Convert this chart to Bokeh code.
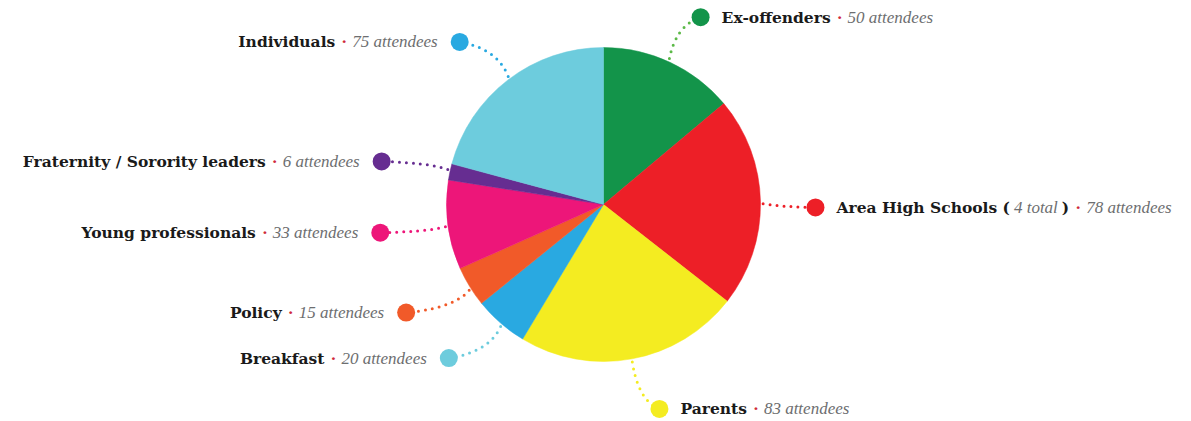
import math
import subprocess
from bokeh.plotting import figure
from bokeh.models import Range1d, ColumnDataSource
from bokeh.core.properties import value
from bokeh.embed import file_html
from bokeh.resources import INLINE

# ---------------- data ----------------
categories = ["Ex-offenders", "Area High Schools", "Parents", "Breakfast", "Policy",
              "Young professionals", "Fraternity / Sorority leaders", "Individuals"]
attendees = [50, 78, 83, 20, 15, 33, 6, 75]
notes = ["", "4 total", "", "", "", "", "", ""]

# ---------------- styles / layout ----------------
slice_colors = ["#13944A", "#ED1F27", "#F4EC21", "#29A9E1", "#F15A29", "#ED1679", "#662D91", "#6DCCDD"]
marker_colors = ["#13944A", "#ED1F27", "#F4EC21", "#6DCCDD", "#F15A29", "#ED1679", "#662D91", "#29A9E1"]
leader_colors = ["#5BB947", "#ED1F27", "#F4EC21", "#6DCCDD", "#F15A29", "#ED1679", "#662D91", "#29A9E1"]
label_nudge = [2.4, 1.8, -4.8, 4.2, 2.8, 0.3, -1.0, -4.0]      # degrees
label_radius = [211, 212, 212, 218, 225, 225, 226, 217]        # px
label_side = ["right", "right", "right", "left", "left", "left", "left", "left"]

W, H = 1191, 421
CX, CY, R = 603, H - 204, 157
FONTS = {"bold": ("DejaVu Serif", 15.5), "italic": ("Liberation Serif", 17)}
NAME_COLOR = "#1a1a1a"
COUNT_COLOR = "#6d6e70"
DOT_COLOR = "#d02a3a"

_paths = {}


def measure(s, style):
    fam, size = FONTS[style]
    try:
        from PIL import ImageFont
        if style not in _paths:
            pat = fam + {"bold": ":bold", "italic": ":italic"}[style]
            _paths[style] = subprocess.run(["fc-match", "-f", "%{file}", pat], capture_output=True,
                                           text=True, timeout=5).stdout.strip()
        return ImageFont.truetype(_paths[style], size).getlength(s)
    except Exception:
        return len(s) * size * {"bold": 0.66, "italic": 0.44}[style]


p = figure(width=W, height=H, x_range=Range1d(0, W), y_range=Range1d(0, H),
           output_backend="svg", toolbar_location=None, min_border=0,
           x_axis_location=None, y_axis_location=None)
p.grid.visible = False
p.outline_line_color = None

# wedges
total = sum(attendees)
cum = 0.0
starts, ends, mids = [], [], []
for v in attendees:
    a0 = cum / total * 360.0
    a1 = (cum + v) / total * 360.0
    cum += v
    starts.append(math.radians(90 - a1))
    ends.append(math.radians(90 - a0))
    mids.append((a0 + a1) / 2)

# leaders & markers
mx, my = [], []
lx0, ly0, lx1, ly1, lcx, lcy = [], [], [], [], [], []
for i, m in enumerate(mids):
    la = math.radians(m + label_nudge[i])
    px = CX + label_radius[i] * math.sin(la)
    py = CY + label_radius[i] * math.cos(la)
    mx.append(px)
    my.append(py)
    sa = math.radians(m)
    x0 = CX + (R - 4) * math.sin(sa)
    y0 = CY + (R - 4) * math.cos(sa)
    lx0.append(x0); ly0.append(y0); lx1.append(px); ly1.append(py)
    lcx.append(0.65 * x0 + 0.35 * (x0 + px) / 2)
    lcy.append(0.65 * py + 0.35 * (y0 + py) / 2)

for i in range(len(categories)):
    p.quadratic(x0=[lx0[i]], y0=[ly0[i]], x1=[lx1[i]], y1=[ly1[i]], cx=[lcx[i]], cy=[lcy[i]],
                line_color=leader_colors[i], line_width=3, line_dash="0 7", line_cap="round")

p.wedge(x=CX, y=CY, radius=R, start_angle=starts, end_angle=ends, direction="anticlock",
        fill_color=slice_colors, line_color=slice_colors, line_width=0.5)

p.scatter(x=mx, y=my, size=18, marker="circle", fill_color=marker_colors, line_color=None)

# labels
bold = dict(x=[], y=[], text=[])
ital = dict(x=[], y=[], text=[])
dots = dict(x=[], y=[], text=[])
for i, name in enumerate(categories):
    segs = []
    if notes[i]:
        segs.append((name + " (", "bold", 0))
        segs.append((notes[i], "italic", 4))
        segs.append((")", "bold", 4))
    else:
        segs.append((name, "bold", 0))
    segs.append(("·", "dot", 9))
    segs.append((f"{attendees[i]} attendees", "italic", 8))
    widths = [0 if st == "dot" else measure(t, st) for t, st, _ in segs]
    total_w = sum(widths) + sum(g for _, _, g in segs)
    if label_side[i] == "right":
        x = mx[i] + 21
    else:
        x = mx[i] - 22 - total_w
    y = my[i]
    for (t, st, gap), w in zip(segs, widths):
        x += gap
        tgt = {"bold": bold, "italic": ital, "dot": dots}[st]
        tgt["x"].append(x)
        tgt["y"].append(y)
        tgt["text"].append(t)
        x += w

p.text(x="x", y="y", text="text", source=ColumnDataSource(bold), text_align="left",
       text_baseline="middle", text_color=NAME_COLOR, text_font_style="bold",
       text_font=value(FONTS["bold"][0]), text_font_size=f"{FONTS['bold'][1]}px")
p.text(x="x", y="y", text="text", source=ColumnDataSource(ital), text_align="left",
       text_baseline="middle", text_color=COUNT_COLOR, text_font_style="italic",
       text_font=value(FONTS["italic"][0]), text_font_size=f"{FONTS['italic'][1]}px")
p.text(x="x", y="y", text="text", source=ColumnDataSource(dots), text_align="center",
       text_baseline="middle", text_color=DOT_COLOR, text_font_style="bold",
       text_font=value(FONTS["bold"][0]), text_font_size=f"{FONTS['bold'][1]}px")

open("out.html", "w").write(file_html(p, INLINE))
